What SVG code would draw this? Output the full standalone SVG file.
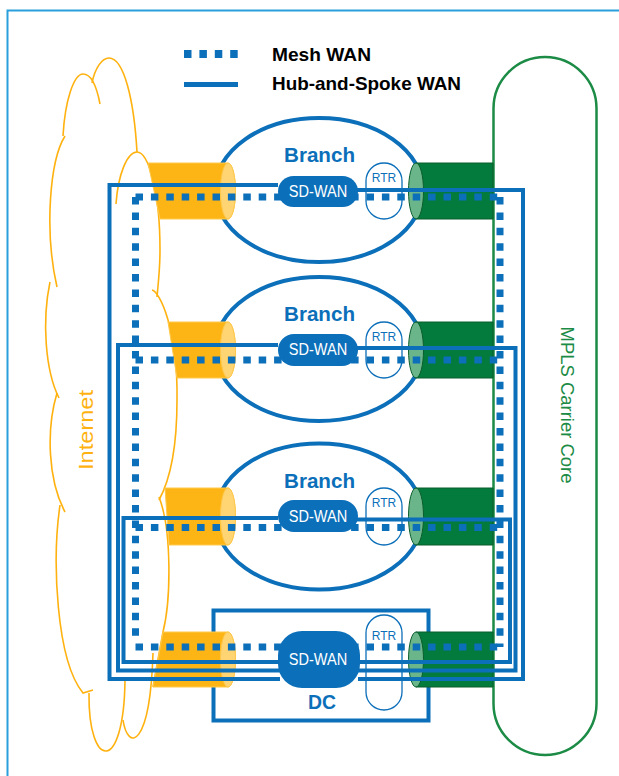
<svg xmlns="http://www.w3.org/2000/svg" width="619" height="776" viewBox="0 0 619 776">
<style>
.frame{fill:none;stroke:#2a9fdb;stroke-width:2}
.cloud{fill:none;stroke:#ffb20f;stroke-width:1.6}
.mpls{fill:none;stroke:#1b8b45;stroke-width:2.5}
.branch{fill:none;stroke:#0c6fb9;stroke-width:4}
.dc{fill:#fff;stroke:#0c6fb9;stroke-width:4}
.obody{fill:#fdb515;stroke:#ffc94d;stroke-width:1}
.oend{fill:#ffd473;stroke:#ffc94d;stroke-width:1}
.gbody{fill:#037b3c;stroke:#0a5e2c;stroke-width:1}
.gend{fill:#6bb58b;stroke:#0a5e2c;stroke-width:1}
.rtr{fill:#fff;stroke:#0c6fb9;stroke-width:1.3}
.sd{fill:#0c6fb9}
.hs{fill:none;stroke:#0c6fb9;stroke-width:4;stroke-linejoin:miter}
.mesh{fill:none;stroke:#0c6fb9;stroke-width:7;stroke-dasharray:7.5 7.9}
.t-sd{font-family:"Liberation Sans",Arial,sans-serif;font-size:16px;fill:#fff;text-anchor:middle}
.t-rtr{font-family:"Liberation Sans",Arial,sans-serif;font-size:13.5px;fill:#0c6fb9;text-anchor:middle}
.t-br{font-family:"Liberation Sans",Arial,sans-serif;font-size:21px;font-weight:bold;fill:#0c6fb9;text-anchor:middle}
.t-leg{font-family:"Liberation Sans",Arial,sans-serif;font-size:19px;font-weight:bold;fill:#000}
</style>
<rect x="0" y="0" width="619" height="776" fill="#fff"/>
<path class="frame" d="M7.5,776 V10.5 H619"/>

<g id="legend">
  <line x1="184" y1="54" x2="238" y2="54" stroke="#0c6fb9" stroke-width="8" stroke-dasharray="7.5 7.9"/>
  <line x1="184" y1="84.5" x2="238" y2="84.5" stroke="#0c6fb9" stroke-width="5"/>
  <text class="t-leg" x="272" y="61" textLength="99" lengthAdjust="spacingAndGlyphs">Mesh WAN</text>
  <text class="t-leg" x="272" y="89.5" textLength="189" lengthAdjust="spacingAndGlyphs">Hub-and-Spoke WAN</text>
</g>

<g id="internet">
  <path class="cloud" d="M63,136 C65,100 74,74 83,74 C92,74 97,88 100,104"/>
  <path class="cloud" d="M92,83 C95,68 102,58 109,58 C124,58 134,100 137,152"/>
  <path class="cloud" d="M116,204 C118,175 127,152 137,152 C148,152 160,190 160,250 C160,270 158,285 157,297"/>
  <path class="cloud" d="M152,290 C160,292 178,330 177,400 C177,450 170,480 159,500"/>
  <path class="cloud" d="M159,497 C172,530 171,600 163,632 L153,687"/>
  <path class="cloud" d="M65,136 C50,160 44,230 57,287"/>
  <path class="cloud" d="M50,282 C42,320 45,370 59,398"/>
  <path class="cloud" d="M57,393 C46,430 48,480 65,512"/>
  <path class="cloud" d="M60,505 C52,560 56,660 83,693 L93,690"/>
  <path class="cloud" d="M89,693 C88,770 124,775 125,680"/>
  <path class="cloud" d="M123,720 C128,752 150,748 153,653"/>
  <text transform="translate(93,430) rotate(-90)" font-family="Liberation Sans, Arial, sans-serif" font-size="20" fill="#ffb20f" text-anchor="middle" textLength="80" lengthAdjust="spacingAndGlyphs">Internet</text>
</g>

<g id="mpls-core">
  <rect class="mpls" x="493.5" y="57" width="103" height="698" rx="51.5"/>
  <text transform="translate(561,405) rotate(90)" font-family="Liberation Sans, Arial, sans-serif" font-size="19" fill="#1b8b45" text-anchor="middle" textLength="157" lengthAdjust="spacingAndGlyphs">MPLS Carrier Core</text>
</g>

<g id="branch1">
  <ellipse class="branch" cx="319" cy="190" rx="104" ry="72"/>
  <path class="obody" d="M148,163 L228,163 A7.5,28 0 0 1 228,219 L160,219 Z"/>
  <ellipse class="oend" cx="228" cy="191" rx="7.5" ry="28"/>
  <path class="gbody" d="M416,163 H493 V219 H416 Z"/>
  <ellipse class="gend" cx="416" cy="191" rx="7.5" ry="28"/>
  <rect class="rtr" x="366" y="163" width="36" height="56" rx="18"/>
  <text class="t-rtr" x="384" y="181.5" textLength="24.5" lengthAdjust="spacingAndGlyphs">RTR</text>
  <text class="t-br" x="319.5" y="162" textLength="71" lengthAdjust="spacingAndGlyphs">Branch</text>
</g>

<g id="branch2">
  <ellipse class="branch" cx="319" cy="349" rx="104" ry="72"/>
  <path class="obody" d="M168,322 L228,322 A7.5,28 0 0 1 228,378 L177,378 Z"/>
  <ellipse class="oend" cx="228" cy="350" rx="7.5" ry="28"/>
  <path class="gbody" d="M416,322 H493 V378 H416 Z"/>
  <ellipse class="gend" cx="416" cy="350" rx="7.5" ry="28"/>
  <rect class="rtr" x="366" y="322" width="36" height="56" rx="18"/>
  <text class="t-rtr" x="384" y="341" textLength="24.5" lengthAdjust="spacingAndGlyphs">RTR</text>
  <text class="t-br" x="319.5" y="321" textLength="71" lengthAdjust="spacingAndGlyphs">Branch</text>
</g>

<g id="branch3">
  <ellipse class="branch" cx="319" cy="516.5" rx="104" ry="73"/>
  <path class="obody" d="M165,488 L228,488 A7.5,28.5 0 0 1 228,545 L169,545 Z"/>
  <ellipse class="oend" cx="228" cy="516.5" rx="7.5" ry="28.5"/>
  <path class="gbody" d="M416,488 H493 V545 H416 Z"/>
  <ellipse class="gend" cx="416" cy="516.5" rx="7.5" ry="28.5"/>
  <rect class="rtr" x="366" y="488" width="36" height="57" rx="18"/>
  <text class="t-rtr" x="384" y="507" textLength="24.5" lengthAdjust="spacingAndGlyphs">RTR</text>
  <text class="t-br" x="319.5" y="488" textLength="71" lengthAdjust="spacingAndGlyphs">Branch</text>
</g>

<g id="dc">
  <rect class="dc" x="213.5" y="610.5" width="215" height="110"/>
  <path class="obody" d="M163,632 L228,632 A7.5,27.5 0 0 1 228,687 L153,687 Z"/>
  <ellipse class="oend" cx="228" cy="659.5" rx="7.5" ry="27.5"/>
  <path class="gbody" d="M416,632 H493 V687 H416 Z"/>
  <ellipse class="gend" cx="416" cy="659.5" rx="7.5" ry="27.5"/>
  <rect class="rtr" x="366" y="615" width="36" height="95" rx="18"/>
  <text class="t-rtr" x="384" y="640" textLength="24.5" lengthAdjust="spacingAndGlyphs">RTR</text>
  <text class="t-br" x="322" y="709" textLength="28" lengthAdjust="spacingAndGlyphs">DC</text>
</g>

<g id="connectors">
  <path class="hs" d="M278,185 H109.5 V679 H280"/>
  <path class="hs" d="M356,190 H523 V679 H358"/>
  <path class="hs" d="M278,345 H118 V670.5 H280"/>
  <path class="hs" d="M356,348 H515.5 V670.5 H358"/>
  <path class="hs" d="M278,518 H123.5 V662 H280"/>
  <path class="hs" d="M356,519.5 H510 V662 H358"/>
  <path class="mesh" d="M135.5,197 H500"/>
  <path class="mesh" d="M135.5,360 H500"/>
  <path class="mesh" d="M135.5,527.5 H500"/>
  <path class="mesh" d="M135.5,647 H500"/>
  <path class="mesh" d="M135.5,197 V640"/>
  <path class="mesh" d="M500,197 V647"/>
</g>

<g id="branch1-sdwan">
  <rect class="sd" x="278" y="176" width="80" height="31" rx="15.5"/>
  <text class="t-sd" x="318" y="196.5" textLength="58.5" lengthAdjust="spacingAndGlyphs">SD-WAN</text>
</g>
<g id="branch2-sdwan">
  <rect class="sd" x="278" y="334" width="80" height="32" rx="16"/>
  <text class="t-sd" x="318" y="355" textLength="58.5" lengthAdjust="spacingAndGlyphs">SD-WAN</text>
</g>
<g id="branch3-sdwan">
  <rect class="sd" x="278" y="500" width="80" height="32" rx="16"/>
  <text class="t-sd" x="318" y="521.5" textLength="58.5" lengthAdjust="spacingAndGlyphs">SD-WAN</text>
</g>
<g id="dc-sdwan">
  <rect class="sd" x="278" y="631" width="82" height="57" rx="24"/>
  <text class="t-sd" x="318" y="664.5" textLength="58.5" lengthAdjust="spacingAndGlyphs">SD-WAN</text>
</g>
</svg>
